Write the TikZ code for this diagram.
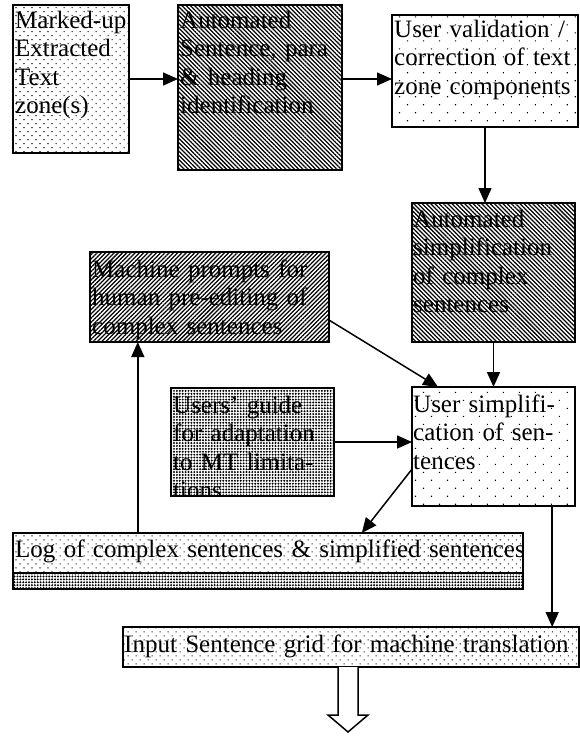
\documentclass[tikz,border=0pt]{standalone}
\usepackage{fontspec}
\setmainfont{Liberation Serif}
\usetikzlibrary{patterns.meta,arrows.meta,calc}

\tikzset{
  boxline/.style={draw=black, line width=1.8pt},
  pbox/.style={boxline, inner sep=0pt, outer sep=0pt, fill=white},
  meddots/.style={pattern={Dots[distance=5.66pt, radius=0.75pt, angle=45]}},
  sparsedots/.style={pattern={Dots[distance=11.3pt, radius=0.8pt, angle=45]}},
  densedots/.style={pattern={Dots[distance=2.9pt, radius=1.1pt]}},
  nwlines/.style={pattern={Lines[distance=3pt, angle=-45, line width=1.25pt]}},
  nelines/.style={pattern={Lines[distance=3pt, angle=45, line width=1.25pt]}},
  txt/.style={font=\fontsize{25}{28.5}\selectfont, align=left, text width=530pt,
    inner sep=0pt, anchor=base west},
  arr/.style={line width=1.5pt, -{Triangle[length=15pt, width=13pt]}},
  hollow/.style={draw=black, line width=1.5pt, fill=white, line join=miter},
}

\begin{document}
\begin{tikzpicture}[x=1pt, y=-1pt]
\useasboundingbox (0,0) rectangle (580,736);

% boxes (white background, then hatching or dots)
\node[pbox, minimum width=116pt, minimum height=148pt] (b1) at (71,79) {};
\fill[meddots] (b1.south west) rectangle (b1.north east);
\draw[boxline] (b1.south west) rectangle (b1.north east);

\node[pbox, minimum width=164pt, minimum height=165pt] (b2) at (260,87.5) {};
\fill[nwlines] (b2.south west) rectangle (b2.north east);
\draw[boxline] (b2.south west) rectangle (b2.north east);

\node[pbox, minimum width=186pt, minimum height=112pt] (b3) at (485,71) {};
\fill[sparsedots] (b3.south west) rectangle (b3.north east);
\draw[boxline] (b3.south west) rectangle (b3.north east);

\node[pbox, minimum width=163pt, minimum height=139pt] (b4) at (493.5,272.5) {};
\fill[nwlines] (b4.south west) rectangle (b4.north east);
\draw[boxline] (b4.south west) rectangle (b4.north east);

\node[pbox, minimum width=239pt, minimum height=90pt] (b5) at (209.5,297) {};
\fill[nelines] (b5.south west) rectangle (b5.north east);
\draw[boxline] (b5.south west) rectangle (b5.north east);

\node[pbox, minimum width=163pt, minimum height=119pt] (b6) at (493.5,446.5) {};
\fill[sparsedots] (b6.south west) rectangle (b6.north east);
\draw[boxline] (b6.south west) rectangle (b6.north east);

\node[pbox, minimum width=163pt, minimum height=108pt] (b7) at (252.5,442) {};
\fill[densedots] (b7.south west) rectangle (b7.north east);
\draw[boxline] (b7.south west) rectangle (b7.north east);

% log box: dotted upper part, dense band below
\node[pbox, minimum width=510pt, minimum height=56pt] (log) at (268,561) {};
\coordinate (logmid) at ($(log.south west)+(0,-16)$);
\fill[meddots] (logmid) rectangle (log.north east);
\fill[densedots] (log.south west) rectangle (log.east |- logmid);
\draw[boxline] (logmid) -- (log.east |- logmid);
\draw[boxline] (log.south west) rectangle (log.north east);

\node[pbox, minimum width=456pt, minimum height=40pt] (input) at (351,647) {};
\fill[meddots] (input.south west) rectangle (input.north east);
\draw[boxline] (input.south west) rectangle (input.north east);

% texts (baseline of the first line placed below each box's top edge)
\node[txt] (t1) at ($(b1.north west)+(2,23)$) {Marked-up\\Extracted\\Text\\zone(s)};
\node[txt] (t2) at ($(b2.north west)+(2,23)$) {Automated\\Sentence, para\\\& heading\\identification};
\node[txt] (t3) at ($(b3.north west)+(2,22)$) {User validation /\\correction of text\\zone components};
\node[txt] (t4) at ($(b4.north west)+(1,24)$) {Automated\\simplification\\of complex\\sentences};
\node[txt] (t5) at ($(b5.north west)+(2,25)$) {Machine prompts for\\human pre-editing of\\complex sentences};
\node[txt] (t6) at ($(b6.north west)+(1,25)$) {User simplifi-\\cation of sen-\\tences};
\begin{scope}
  % the last line runs past the box and is cut off at its lower edge
  \clip ($(b7.south west)+(0,-1)$) rectangle (b7.north east);
  \node[txt] (t7) at ($(b7.north west)+(2,25)$) {Users’ guide\\for adaptation\\to MT limita-\\tions};
\end{scope}
\draw[boxline] (b7.south west) -- (b7.south east);
\node[txt] (tlog) at ($(log.north west)+(2,24)$) {Log of complex sentences \& simplified sentences};
\node[txt] (tin) at ($(input.north west)+(1,25)$) {Input Sentence grid for machine translation};

% connectors
\draw[arr] (b1.east) -- (b1.east -| b2.west);
\draw[arr] (b2.east |- b1.east) -- (b3.west |- b1.east);
\draw[arr] (b3.south) -- (b3.south |- b4.north);
\draw[arr] (b4.south) -- (b6.north);
\draw[arr] ($(b5.south east)!0.244!(b5.north east)$) -- ($(b6.north west)!0.16!(b6.north east)$);
\draw[arr] (b7.east) -- (b7.east -| b6.west);
\draw[arr] ($(b6.north west)!0.69!(b6.south west)$) -- ($(log.north west)!0.684!(log.north east)$);
\coordinate (up) at ($(b5.south west)!0.2!(b5.south east)$);
\draw[arr] (up |- log.north) -- (up);
\coordinate (down) at ($(b6.south west)!0.86!(b6.south east)$);
\draw[arr] (down) -- (down |- input.north);

% outlined arrow below the grid
\coordinate (ha) at ($(input.south)+(-3,0)$);
\draw[hollow] ($(ha)+(-10,0)$) -- ($(ha)+(-10,48)$) -- ($(ha)+(-20,48)$) -- ($(ha)+(0,65)$)
  -- ($(ha)+(20,48)$) -- ($(ha)+(10,48)$) -- ($(ha)+(10,0)$);
\end{tikzpicture}
\end{document}
